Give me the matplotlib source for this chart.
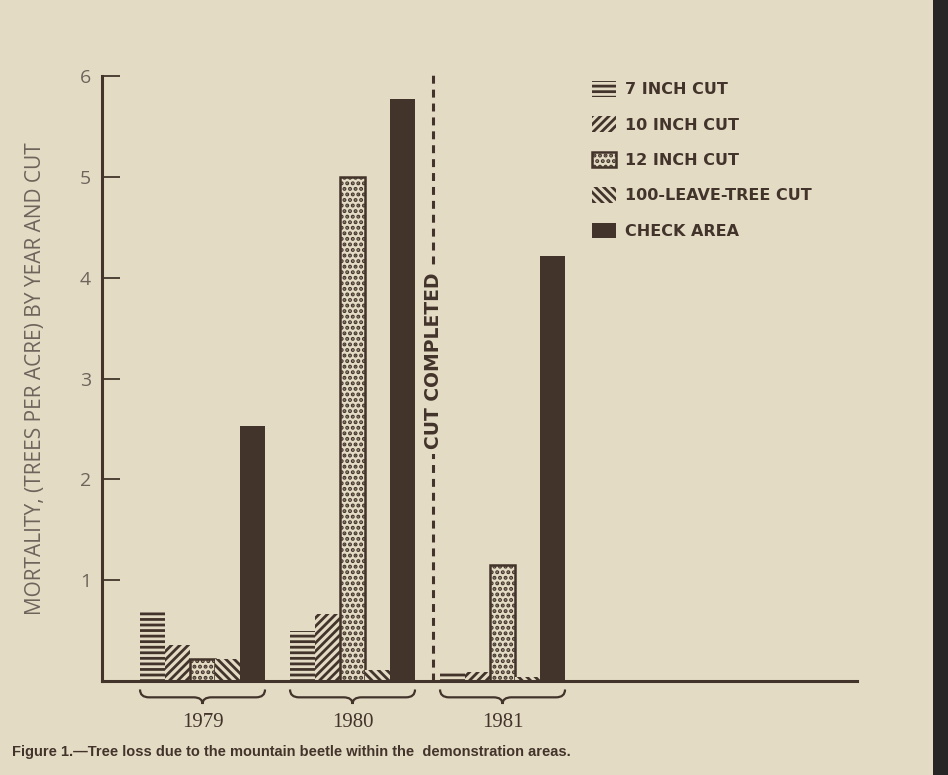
import numpy as np
import matplotlib
matplotlib.use('Agg')
from matplotlib import pyplot as plt
from matplotlib.patches import Rectangle, PathPatch
from matplotlib.path import Path
import matplotlib.transforms as mtransforms

#data
years = ['1979', '1980', '1981']
cuts = ['7 INCH CUT', '10 INCH CUT', '12 INCH CUT', '100-LEAVE-TREE CUT', 'CHECK AREA']
cut7 = [0.70, 0.50, 0.10]
cut10 = [0.36, 0.66, 0.09]
cut12 = [0.22, 5.00, 1.15]
cut100 = [0.22, 0.11, 0.04]
check = [2.53, 5.77, 4.22]
yticks = [1, 2, 3, 4, 5, 6]

series = [cut7, cut10, cut12, cut100, check]
hatches = ['---', '////', '...', '\\\\\\\\', None]

paper = '#e4dbc5'
ink = '#42342a'
grey = '#6e645b'

plt.rcParams['hatch.linewidth'] = 2.0

fig = plt.figure(figsize=(9.48, 7.75), dpi=100, facecolor=paper)
ax = fig.add_axes([0.1076, 0.1213, 0.7964, 0.7806])
ax.set_facecolor(paper)

x = np.arange(len(years))
w = 1 / 6
for i, vals in enumerate(series):
    pos = x + (i - 2) * w
    if hatches[i] is None:
        ax.bar(pos, vals, w, color=ink, edgecolor=ink, linewidth=0, label=cuts[i])
    elif i == 2:
        ax.bar(pos, vals, w, facecolor=paper, edgecolor=ink, hatch=hatches[i],
               linewidth=1.8, label=cuts[i])
    else:
        ax.bar(pos, vals, w, facecolor=paper, edgecolor=ink, hatch=hatches[i],
               linewidth=0, label=cuts[i])

ax.set_xlim(-0.67, 4.363)
ax.set_ylim(0, 6)

# axes styling
for s in ['top', 'right']:
    ax.spines[s].set_visible(False)
ax.spines['left'].set_linewidth(2.2)
ax.spines['bottom'].set_linewidth(2.2)
ax.spines['left'].set_color(ink)
ax.spines['bottom'].set_color(ink)

ax.set_yticks(yticks)
ax.set_yticklabels([str(t) for t in yticks], fontsize=14, color=grey,
                   family=['Open Sans', 'DejaVu Sans'])
ax.tick_params(axis='y', direction='in', length=13, width=1.3, color=ink, pad=8)
ax.set_xticks(x)
ax.set_xticklabels(years, fontsize=15, color=ink, family='Liberation Serif')
ax.tick_params(axis='x', length=0, pad=23)

ax.set_ylabel('MORTALITY, (TREES PER ACRE) BY YEAR AND CUT', fontsize=15,
              color=grey, family=['Open Sans', 'DejaVu Sans'], labelpad=24)

# braces under each year group
tr = mtransforms.blended_transform_factory(ax.transData, ax.transAxes)
for g in x:
    x0 = g - 2.5 * w
    x1 = g + 2.5 * w
    xc = g
    d = 0.06
    yt, ym, yb = -0.014, -0.027, -0.038
    verts = [(x0, yt), (x0, ym), (x0 + d, ym), (xc - d, ym), (xc, ym), (xc, yb),
             (xc, ym), (xc + d, ym), (x1 - d, ym), (x1, ym), (x1, yt)]
    codes = [Path.MOVETO, Path.CURVE3, Path.CURVE3, Path.LINETO, Path.CURVE3, Path.CURVE3,
             Path.CURVE3, Path.CURVE3, Path.LINETO, Path.CURVE3, Path.CURVE3]
    ax.add_patch(PathPatch(Path(verts, codes), transform=tr, fill=False,
                           edgecolor=ink, linewidth=1.6, clip_on=False))

# cut completed line
xcut = 1.537
ax.plot([xcut, xcut], [0, 6.05], color=ink, linewidth=2.2, dashes=(2.6, 1.95),
        clip_on=False)
ax.text(xcut, 3.18, 'CUT COMPLETED', rotation=90, ha='center', va='center',
        fontsize=13.5, fontweight='bold', color=ink, family='DejaVu Sans',
        bbox=dict(facecolor=paper, edgecolor='none', pad=4))

# legend
leg = ax.legend(loc='upper left', bbox_to_anchor=(592 / 948, 1 - 81 / 775),
                bbox_transform=fig.transFigure, frameon=False, fontsize=11.5,
                handlelength=1.5, handleheight=1.13, handletextpad=0.55,
                labelspacing=1.2, borderpad=0, borderaxespad=0)
for t in leg.get_texts():
    t.set_color(ink)
    t.set_fontweight('bold')

# caption
fig.text(12 / 948, 1 - 752 / 775,
         'Figure 1.\u2014Tree loss due to the mountain beetle within the  demonstration areas.',
         fontsize=10.5, fontweight='bold', color=ink, family='Liberation Sans', va='center')

# dark strip at the right edge of the scan
fig.patches.append(Rectangle((933 / 948, 0), 15 / 948, 1, transform=fig.transFigure,
                             facecolor='#262626', edgecolor='none'))

plt.savefig('out.png', dpi=100, facecolor=paper)
